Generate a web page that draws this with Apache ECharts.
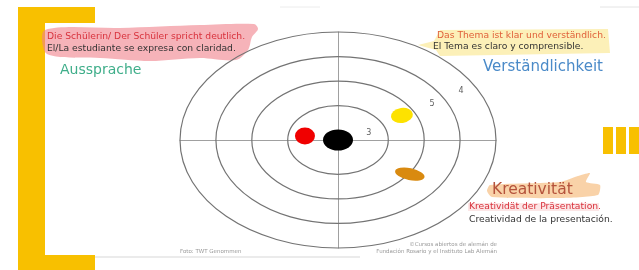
<!DOCTYPE html>
<html>
<head>
<meta charset="utf-8">
<script src="https://cdn.jsdelivr.net/npm/echarts@6/dist/echarts.min.js"></script>
<style>
  html, body { margin: 0; padding: 0; background: #fff; }
  #main { width: 639px; height: 270px; }
</style>
</head>
<body>
<div id="main"></div>
<script>
// Zielscheibe: Ringe und Treffer (Einheiten der Achsen)
const ringRadii = [1.4, 2.4, 3.4, 4.4];
const centerHit = [[0, 0]];
const redHit = [[-0.92, 0.16]];     // Aussprache
const yellowHit = [[1.78, 1.0]];    // Verständlichkeit
const orangeHit = [[2.0, -1.39]];   // Kreativität
const ringNumbers = [[0.86, 0.29, "3"], [2.62, 1.47, "5"], [3.43, 2.0, "4"]];

const chartDom = document.getElementById("main");
const myChart = echarts.init(chartDom);

const smallFont = "9.2px 'DejaVu Sans'";
const tinyFont = "5.5px 'DejaVu Sans'";

const text = (x, y, str, font, fill, align) => ({
    type: "text",
    x: x,
    y: y,
    z: 10,
    style: { text: str, font: font, fill: fill, align: align || "left", verticalAlign: "middle" }
});

const option = {
    backgroundColor: "#fff",
    animation: false,
    grid: { left: 180, right: 143, top: 32, bottom: 22 },
    xAxis: {
        type: "value",
        min: -4.4,
        max: 4.4,
        axisLine: { show: true, onZero: true, lineStyle: { color: "#a0a0a0", width: 1 } },
        axisTick: { show: false },
        axisLabel: { show: false },
        splitLine: { show: false }
    },
    yAxis: {
        type: "value",
        min: -4.4,
        max: 4.4,
        axisLine: { show: true, onZero: true, lineStyle: { color: "#a0a0a0", width: 1 } },
        axisTick: { show: false },
        axisLabel: { show: false },
        splitLine: { show: false }
    },
    series: [
        {
            // Ringe
            type: "custom",
            clip: false,
            data: ringRadii.map(r => [r, 0]),
            renderItem: (params, api) => {
                const r = api.value(0);
                const c = api.coord([0, 0]);
                const e = api.coord([r, r]);
                return {
                    type: "ellipse",
                    shape: { cx: c[0], cy: c[1], rx: e[0] - c[0], ry: c[1] - e[1] },
                    style: { fill: "none", stroke: "#737373", lineWidth: 1.2 }
                };
            },
            z: 2
        },
        {
            type: "scatter",
            data: centerHit,
            symbol: "circle",
            symbolSize: [30, 21],
            itemStyle: { color: "#000", opacity: 1 },
            z: 5
        },
        {
            type: "scatter",
            data: redHit,
            symbol: "circle",
            symbolSize: [20, 17],
            itemStyle: { color: "#f00000", opacity: 1 },
            z: 5
        },
        {
            type: "scatter",
            data: yellowHit,
            symbol: "circle",
            symbolSize: [22, 15],
            symbolRotate: 8,
            itemStyle: { color: "#fde200", opacity: 1 },
            z: 5
        },
        {
            type: "scatter",
            data: orangeHit,
            symbol: "circle",
            symbolSize: [30, 12],
            symbolRotate: -12,
            itemStyle: { color: "#d98a10", opacity: 1 },
            z: 5
        },
        {
            // Ringnummern
            type: "scatter",
            data: ringNumbers,
            symbolSize: 1,
            itemStyle: { color: "transparent" },
            label: {
                show: true,
                position: "inside",
                formatter: p => p.value[2],
                fontSize: 8,
                fontFamily: "DejaVu Sans",
                color: "#333"
            },
            z: 6
        }
    ],
    graphic: [
        // gelber Rahmen links
        { type: "rect", shape: { x: 18, y: 7, width: 27, height: 263 }, style: { fill: "#f8c000" } },
        { type: "rect", shape: { x: 18, y: 7, width: 77, height: 16 }, style: { fill: "#f8c000" } },
        { type: "rect", shape: { x: 18, y: 255, width: 77, height: 15 }, style: { fill: "#f8c000" } },
        // Streifen rechts
        { type: "rect", shape: { x: 603, y: 127, width: 10, height: 27 }, style: { fill: "#f8c000" } },
        { type: "rect", shape: { x: 616, y: 127, width: 10, height: 27 }, style: { fill: "#f8c000" } },
        { type: "rect", shape: { x: 629, y: 127, width: 10, height: 27 }, style: { fill: "#f8c000" } },
        // Folienränder
        { type: "line", shape: { x1: 95, y1: 257, x2: 360, y2: 257 }, style: { stroke: "#e4e4e4", lineWidth: 1.5 } },
        { type: "line", shape: { x1: 600, y1: 7, x2: 639, y2: 7 }, style: { stroke: "#e4e4e4", lineWidth: 1 } },
        { type: "line", shape: { x1: 280, y1: 7, x2: 320, y2: 7 }, style: { stroke: "#ececec", lineWidth: 1 } },

        // Markierungen
        {
            type: "polygon",
            z: 1,
            shape: {
                points: [[45, 30], [120, 28], [200, 25], [254, 24], [258, 29], [252, 37], [248, 50], [236, 60],
                         [200, 58], [150, 61], [100, 58], [60, 57], [45, 52]],
                smooth: 0.3
            },
            style: { fill: "rgba(240,128,138,0.6)" }
        },
        {
            type: "polygon",
            z: 1,
            shape: {
                points: [[440, 30], [608, 29], [610, 53], [440, 56], [436, 50], [418, 45], [434, 41]]
            },
            style: { fill: "#fcf0b8" }
        },
        {
            type: "polygon",
            z: 1,
            shape: {
                points: [[490, 185], [560, 182], [578, 176], [590, 173], [586, 182], [600, 185], [598, 195],
                         [560, 198], [492, 197], [487, 191]],
                smooth: 0.2
            },
            style: { fill: "rgba(245,180,110,0.6)" }
        },
        { type: "rect", z: 1, shape: { x: 468, y: 203, width: 131, height: 8 }, style: { fill: "rgba(250,205,205,0.5)" } },

        // Texte
        text(47, 37, "Die Schülerin/ Der Schüler spricht deutlich.", smallFont, "#d8323c"),
        text(47, 49, "El/La estudiante se expresa con claridad.", smallFont, "#333"),
        text(60, 70, "Aussprache", "14px 'DejaVu Sans'", "#3fae8a"),

        text(437, 36, "Das Thema ist klar und verständlich.", smallFont, "#e0603a"),
        text(433, 47, "El Tema es claro y comprensible.", smallFont, "#333"),
        text(483, 67, "Verständlichkeit", "15px 'DejaVu Sans'", "#4a8ac8"),

        text(492, 190, "Kreativität", "15.5px 'DejaVu Sans'", "#b5533c"),
        text(469, 207, "Kreatividät der Präsentation.", smallFont, "#d8323c"),
        text(469, 220, "Creatividad de la presentación.", smallFont, "#333"),

        text(180, 252, "Foto: TWT Genommen", tinyFont, "#999"),
        text(497, 245, "©Cursos abiertos de alemán de", tinyFont, "#999", "right"),
        text(497, 252, "Fundación Rosario y el Instituto Lab Alemán", tinyFont, "#999", "right")
    ]
};

myChart.setOption(option);
</script>
</body>
</html>
